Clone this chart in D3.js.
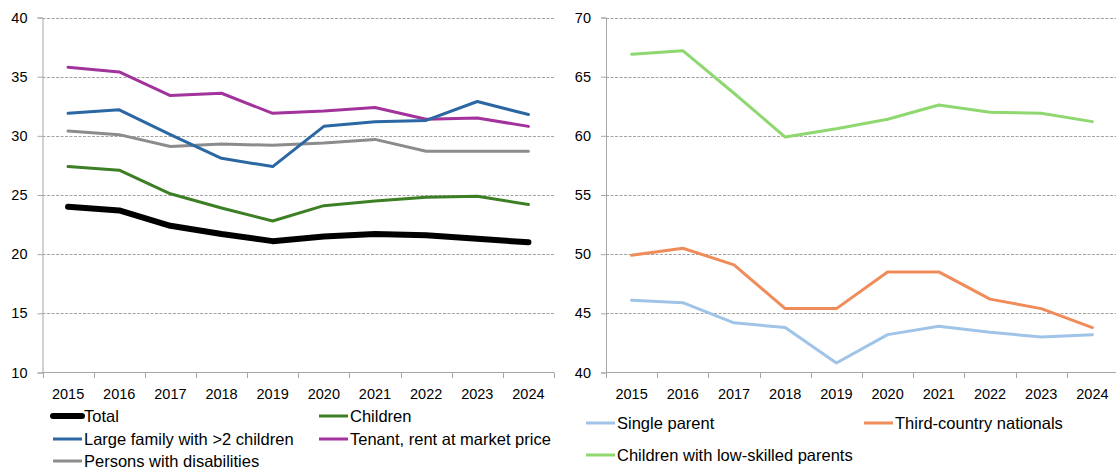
<!DOCTYPE html>
<meta charset="utf-8">
<head>
<style>
  body { margin: 0; background: #fff; }
  text { font-family: "Liberation Sans", Arial, sans-serif; fill: #000; }
</style>
</head>
<script src="https://cdn.jsdelivr.net/npm/d3@7"></script>
<body>
<script>

var years = ["2015", "2016", "2017", "2018", "2019", "2020", "2021", "2022", "2023", "2024"];

// left panel
var total      = [24.0, 23.7, 22.4, 21.7, 21.1, 21.5, 21.7, 21.6, 21.3, 21.0];
var children   = [27.4, 27.1, 25.1, 23.9, 22.8, 24.1, 24.5, 24.8, 24.9, 24.2];
var largeFam   = [31.9, 32.2, 30.1, 28.1, 27.4, 30.8, 31.2, 31.3, 32.9, 31.8];
var tenant     = [35.8, 35.4, 33.4, 33.6, 31.9, 32.1, 32.4, 31.4, 31.5, 30.8];
var disabled   = [30.4, 30.1, 29.1, 29.3, 29.2, 29.4, 29.7, 28.7, 28.7, 28.7];
var leftTicks  = [10, 15, 20, 25, 30, 35, 40];

// right panel
var singleParent = [46.1, 45.9, 44.2, 43.8, 40.8, 43.2, 43.9, 43.4, 43.0, 43.2];
var thirdCountry = [49.9, 50.5, 49.1, 45.4, 45.4, 48.5, 48.5, 46.2, 45.4, 43.8];
var lowSkilled   = [66.9, 67.2, 63.6, 59.9, 60.6, 61.4, 62.6, 62.0, 61.9, 61.2];
var rightTicks   = [40, 45, 50, 55, 60, 65, 70];

var W = 1116, H = 473;
var svg = d3.select("body").append("svg")
    .attr("width", W)
    .attr("height", H);

function panel(opt) {
  var x = d3.scaleBand().domain(years).range([opt.x0, opt.x1]);
  var y = d3.scaleLinear().domain(opt.domain).range([372.5, 17.5]);
  var g = svg.append("g");

  // grid
  g.selectAll(".grid").data(opt.ticks.slice(1)).enter().append("line")
    .attr("x1", opt.x0).attr("x2", opt.x1)
    .attr("y1", function(d) { return Math.round(y(d)) + 0.5; })
    .attr("y2", function(d) { return Math.round(y(d)) + 0.5; })
    .style("stroke", "#a3a3a3")
    .style("stroke-dasharray", "3,1.5")
    .style("stroke-width", 1);

  // y axis
  var ya = g.append("g")
    .attr("transform", "translate(" + opt.x0 + ",0)")
    .call(d3.axisLeft(y).tickValues(opt.ticks).tickSize(5).tickPadding(10));
  ya.select(".domain").style("stroke", "#a6a6a6");
  ya.selectAll(".tick line").style("stroke", "#a6a6a6");
  ya.selectAll("text").style("font-size", "14.5px").style("font-family", "Liberation Sans, Arial, sans-serif");

  // x axis with ticks on band edges
  var xa = g.append("g")
    .attr("transform", "translate(0,372.5)")
    .call(d3.axisBottom(x).tickSize(0).tickPadding(16));
  xa.select(".domain").remove();
  xa.selectAll("text").style("font-size", "14.5px").style("font-family", "Liberation Sans, Arial, sans-serif");
  g.append("line")
    .attr("x1", opt.x0).attr("x2", opt.x1)
    .attr("y1", 372.5).attr("y2", 372.5)
    .style("stroke", "#a6a6a6");
  var edges = years.map(function(d) { return x(d); }).concat([opt.x1]);
  g.selectAll(".xt").data(edges).enter().append("line")
    .attr("x1", function(d) { return Math.round(d) + 0.5; })
    .attr("x2", function(d) { return Math.round(d) + 0.5; })
    .attr("y1", 372.5).attr("y2", 378)
    .style("stroke", "#a6a6a6");

  var line = d3.line()
    .x(function(d, i) { return x(years[i]) + x.bandwidth() / 2; })
    .y(function(d) { return y(d); });

  opt.series.forEach(function(s) {
    g.append("path")
      .datum(s.values)
      .attr("d", line)
      .style("fill", "none")
      .style("stroke", s.color)
      .style("stroke-width", s.width)
      .style("stroke-linejoin", "round")
      .style("stroke-linecap", "round");
  });

  // legend
  opt.series.forEach(function(s) {
    var lg = g.append("g").attr("transform", "translate(" + s.lx + "," + s.ly + ")");
    lg.append("line")
      .attr("x1", 0).attr("x2", 29)
      .style("stroke", s.color)
      .style("stroke-width", s.width === 6 ? 6 : 3)
      .style("stroke-linecap", s.width === 6 ? "round" : "butt");
    lg.append("text")
      .attr("x", 31).attr("y", 5.5)
      .style("font-size", "16.5px")
      .text(s.name);
  });
}

panel({
  x0: 42.5, x1: 554, domain: [10, 40], ticks: leftTicks,
  series: [
    {name: "Persons with disabilities", values: disabled, color: "#8c8c8c", width: 3, lx: 53, ly: 461},
    {name: "Tenant, rent at market price", values: tenant, color: "#a2339c", width: 3, lx: 319, ly: 439},
    {name: "Large family with >2 children", values: largeFam, color: "#2a67a3", width: 3, lx: 53, ly: 439},
    {name: "Children", values: children, color: "#3d7f24", width: 3, lx: 319, ly: 416},
    {name: "Total", values: total, color: "#000000", width: 6, lx: 53, ly: 416}
  ]
});

panel({
  x0: 606, x1: 1118, domain: [40, 70], ticks: rightTicks,
  series: [
    {name: "Single parent", values: singleParent, color: "#a0c4e8", width: 3, lx: 586, ly: 423},
    {name: "Third-country nationals", values: thirdCountry, color: "#ef8c5a", width: 3, lx: 864, ly: 423},
    {name: "Children with low-skilled parents", values: lowSkilled, color: "#8fd870", width: 3, lx: 586, ly: 455}
  ]
});

</script>
</body>
